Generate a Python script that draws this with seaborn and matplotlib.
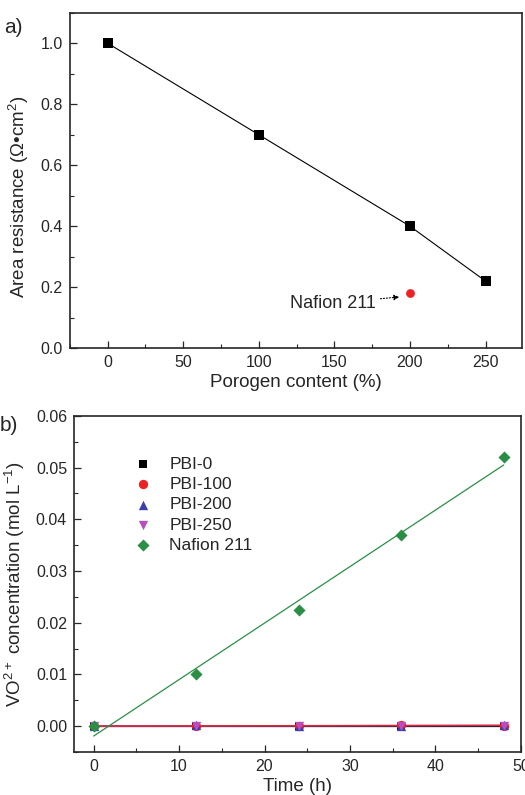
import numpy as np
import pandas as pd
import matplotlib
matplotlib.use("Agg")
import matplotlib.pyplot as plt
import seaborn as sns
from matplotlib.ticker import MultipleLocator, FormatStrFormatter

# panel a data
porogen = [0, 100, 200, 250]
resistance = [1.0, 0.70, 0.40, 0.22]
nafion_porogen = [200]
nafion_resistance = [0.18]

# panel b data
time_h = [0, 12, 24, 36, 48]
pbi_0 = [0.0, 0.0, 0.0, 0.0, 0.0]
pbi_100 = [0.0, 0.0001, 0.0001, 0.0002, 0.0001]
pbi_200 = [0.0, 0.0002, 0.0001, 0.0001, 0.0002]
pbi_250 = [0.0, 0.0001, 0.0, 0.0001, 0.0001]
nafion_211 = [0.0, 0.0100, 0.0225, 0.0370, 0.0520]

series_names = ["PBI-0", "PBI-100", "PBI-200", "PBI-250", "Nafion 211"]
series_colors = ["#000000", "#ee2222", "#3a3fb0", "#b94cbf", "#2a8f45"]
series_markers = ["s", "o", "^", "v", "D"]
series_sizes = [38, 45, 45, 45, 38]
line_order = [0, 2, 3, 1, 4]   # red fit line ends up on top of the flat ones

sns.set_style("ticks")
plt.rcParams["font.family"] = ["Liberation Sans", "DejaVu Sans"]
plt.rcParams["mathtext.fontset"] = "custom"
plt.rcParams["mathtext.rm"] = "Liberation Sans"
plt.rcParams["mathtext.default"] = "regular"
plt.rcParams["xtick.direction"] = "in"
plt.rcParams["ytick.direction"] = "in"

fig = plt.figure(figsize=(5.25, 7.95), dpi=100)
ax1 = fig.add_axes([0.133, 0.562, 0.861, 0.422])
ax2 = fig.add_axes([0.141, 0.054, 0.851, 0.423])

# ---- panel a
df_a = pd.DataFrame({"porogen": porogen, "resistance": resistance})
sns.lineplot(data=df_a, x="porogen", y="resistance", ax=ax1, color="black",
             lw=0.8, marker="s", markersize=6.5, markeredgewidth=0)
ax1.scatter(nafion_porogen, nafion_resistance, color="#ee2222", s=40,
            linewidths=0, zorder=3)
ax1.annotate("Nafion 211", xy=(nafion_porogen[0] - 7, nafion_resistance[0] - 0.012),
             xytext=(149, 0.148), ha="center", va="center", fontsize=13,
             arrowprops=dict(arrowstyle="-|>", linestyle=":", color="black",
                             lw=0.8, mutation_scale=8, shrinkA=1, shrinkB=0))
ax1.set_xlim(-25, 274)
ax1.set_ylim(0, 1.1)
ax1.xaxis.set_major_locator(MultipleLocator(50))
ax1.xaxis.set_minor_locator(MultipleLocator(25))
ax1.yaxis.set_major_locator(MultipleLocator(0.2))
ax1.yaxis.set_minor_locator(MultipleLocator(0.1))
ax1.yaxis.set_major_formatter(FormatStrFormatter("%.1f"))
ax1.set_xlabel("Porogen content (%)", fontsize=13.5, labelpad=3)
ax1.set_ylabel("Area resistance (Ω•cm$^2$)", fontsize=13.5)
ax1.yaxis.set_label_coords(-0.085, 0.45)
fig.text(0.008, 0.958, "a)", fontsize=15)

# ---- panel b
all_series = [pbi_0, pbi_100, pbi_200, pbi_250, nafion_211]
for i in line_order:
    df_b = pd.DataFrame({"time": time_h, "conc": all_series[i]})
    sns.regplot(data=df_b, x="time", y="conc", ax=ax2, ci=None, truncate=True,
                scatter=False, line_kws=dict(color=series_colors[i], lw=0.9))
for name, vals, col, mk, sz in zip(series_names, all_series, series_colors,
                                   series_markers, series_sizes):
    ax2.scatter(time_h, vals, s=sz, marker=mk, color=col,
                linewidths=0, label=name, zorder=3)
ax2.set_xlim(-2.3, 50)
ax2.set_ylim(-0.005, 0.06)
ax2.xaxis.set_major_locator(MultipleLocator(10))
ax2.xaxis.set_minor_locator(MultipleLocator(5))
ax2.yaxis.set_major_locator(MultipleLocator(0.01))
ax2.yaxis.set_minor_locator(MultipleLocator(0.005))
ax2.yaxis.set_major_formatter(FormatStrFormatter("%.2f"))
ax2.set_xlabel("Time (h)", fontsize=13.5)
ax2.xaxis.set_label_coords(0.5, -0.078)
ax2.set_ylabel("VO$^{2+}$ concentration (mol L$^{-1}$)", fontsize=13.5, labelpad=6)
ax2.legend(loc="upper left", bbox_to_anchor=(0.12, 0.90), frameon=False,
           fontsize=12.5, handletextpad=1.0, labelspacing=0.3, handlelength=1.0,
           borderaxespad=0)
fig.text(0.0, 0.458, "b)", fontsize=15)

for ax in (ax1, ax2):
    ax.tick_params(axis="both", which="major", labelsize=11.5, length=5, width=0.9,
                   top=False, right=False, pad=5)
    ax.tick_params(axis="both", which="minor", length=3, width=0.8,
                   top=False, right=False)
    for sp in ax.spines.values():
        sp.set_linewidth(1.2)

fig.savefig("out.png", dpi=100)
